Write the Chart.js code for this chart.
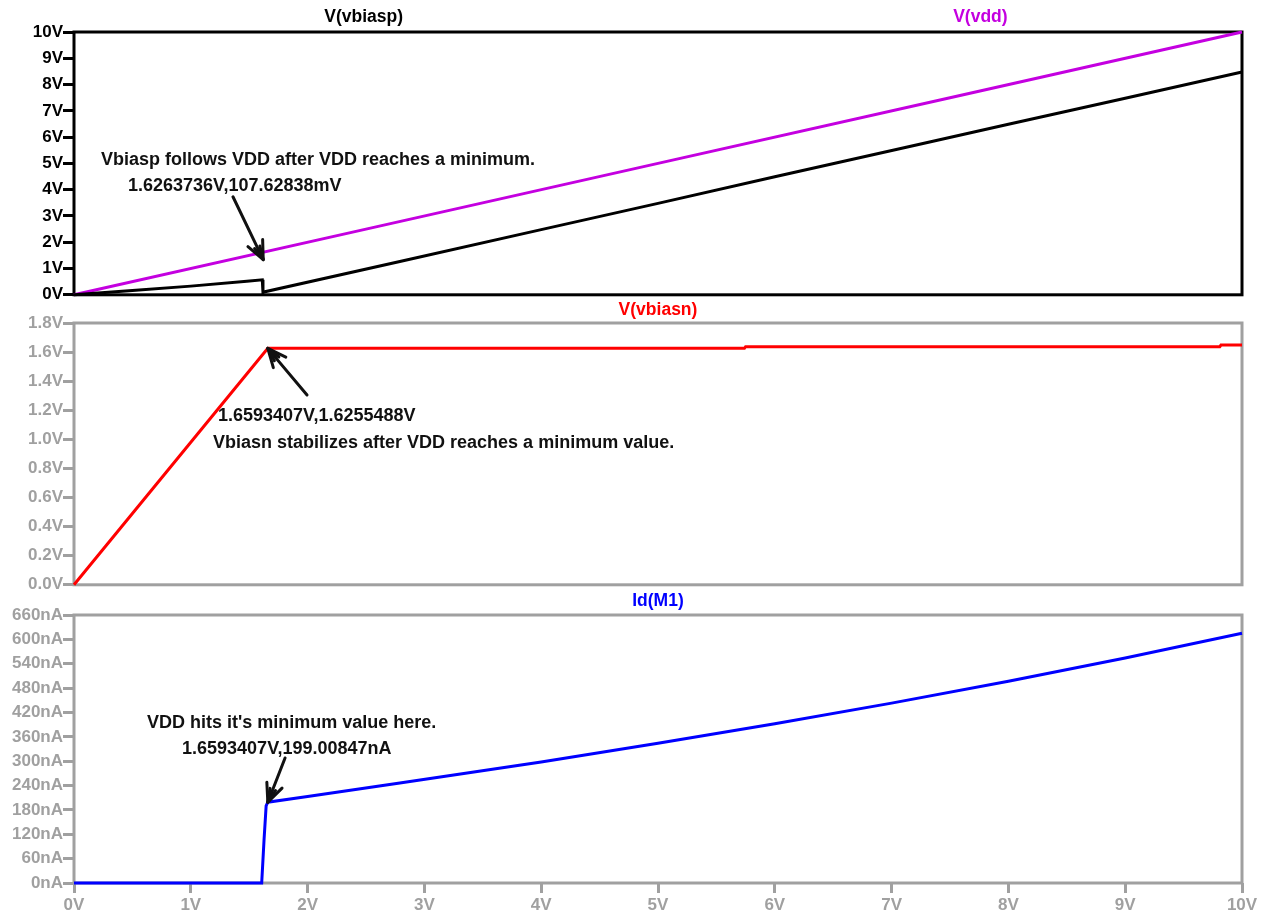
<!DOCTYPE html>
<html>
<head>
<meta charset="utf-8">
<title>VDD sweep: bias voltages and Id(M1)</title>
<script src="https://cdn.jsdelivr.net/npm/chart.js@4.4.1/dist/chart.umd.min.js"></script>
<style>
  html, body { margin: 0; padding: 0; background: #ffffff; }
  #wrap { position: relative; width: 1265px; height: 914px; overflow: hidden; }
  .pane { position: absolute; left: 0; width: 1265px; }
</style>
</head>
<body>
<div id="wrap">
  <div class="pane" style="top:0;height:305px"><canvas id="cTop"></canvas></div>
  <div class="pane" style="top:300px;height:295px"><canvas id="cMid"></canvas></div>
  <div class="pane" style="top:590px;height:324px"><canvas id="cBot"></canvas></div>
</div>
<script>
// ---- sweep data (x = VDD in volts) ----
const vddX = [0, 2.5, 5, 7.5, 10];
const vddY = [0, 2.5, 5, 7.5, 10];

const vbiaspX = [0, 0.5, 1.0, 1.48, 1.612, 1.618, 1.6263736, 2.79, 4.0, 5.0, 6.0, 7.24, 8.0, 9.0, 10.0];
const vbiaspY = [0, 0.16, 0.33, 0.52, 0.57, 0.08, 0.10762838, 1.27, 2.48, 3.48, 4.49, 5.73, 6.49, 7.48, 8.48];

const vbiasnX = [0, 0.5, 1.0, 1.5, 1.6593407, 3.0, 5.74, 5.75, 9.81, 9.82, 10.0];
const vbiasnY = [0, 0.49, 0.98, 1.47, 1.6255488, 1.626, 1.626, 1.637, 1.637, 1.648, 1.648];

const idX = [0, 1.0, 1.607, 1.627, 1.645, 1.6593407, 2.0, 2.79, 4.0, 5.0, 6.0, 7.0, 8.0, 9.0, 10.0];
const idY = [0, 0, 0, 106, 190, 199.00847, 213, 246, 298, 344, 392, 443, 497, 554, 615];

// axis ranges and tick steps
const xRange = [0, 10, 1];
const topRange = [0, 10, 1];
const midRange = [0, 1.8, 0.2];
const botRange = [0, 660, 60];

const FONT = '"Liberation Sans", Arial, sans-serif';
const GRAY = '#a0a0a0';

function pts(xs, ys) { return xs.map((x, i) => ({ x: x, y: ys[i] })); }

function drawArrow(ctx, x0, y0, x1, y1) {
  const ang = Math.atan2(y1 - y0, x1 - x0);
  const len = 20, spread = 0.42;
  ctx.beginPath();
  ctx.moveTo(x0, y0); ctx.lineTo(x1, y1);
  ctx.stroke();
  ctx.beginPath();
  ctx.moveTo(x1 - len * Math.cos(ang - spread), y1 - len * Math.sin(ang - spread));
  ctx.lineTo(x1, y1);
  ctx.lineTo(x1 - len * Math.cos(ang + spread), y1 - len * Math.sin(ang + spread));
  ctx.stroke();
  ctx.beginPath();
  ctx.moveTo(x1 - 0.7 * len * Math.cos(ang - spread * 0.5), y1 - 0.7 * len * Math.sin(ang - spread * 0.5));
  ctx.lineTo(x1, y1);
  ctx.lineTo(x1 - 0.7 * len * Math.cos(ang + spread * 0.5), y1 - 0.7 * len * Math.sin(ang + spread * 0.5));
  ctx.stroke();
}

// frame, trace names and annotations for each pane
const paneDecor = {
  id: 'paneDecor',
  beforeDatasetsDraw(chart, args, opts) {
    const { ctx, chartArea: a } = chart;
    ctx.save();
    ctx.strokeStyle = opts.frame;
    ctx.lineWidth = 3;
    ctx.strokeRect(a.left, a.top, a.right - a.left, a.bottom - a.top);
    ctx.restore();
  },
  afterDatasetsDraw(chart, args, opts) {
    const { ctx, chartArea: a } = chart;
    const sx = chart.scales.x, sy = chart.scales.y;
    ctx.save();
    ctx.font = 'bold 17.5px ' + FONT;
    ctx.textAlign = 'center';
    ctx.textBaseline = 'middle';
    (opts.titles || []).forEach(t => {
      ctx.fillStyle = t.color;
      ctx.fillText(t.text, a.left + t.at * (a.right - a.left), t.y);
    });
    ctx.font = 'bold 18px ' + FONT;
    ctx.textAlign = 'left';
    ctx.fillStyle = '#111111';
    ctx.strokeStyle = '#111111';
    ctx.lineWidth = 3;
    ctx.lineCap = 'round';
    ctx.lineJoin = 'round';
    (opts.notes || []).forEach(n => {
      n.lines.forEach(l => ctx.fillText(l.text, sx.getPixelForValue(l.x), sy.getPixelForValue(l.y)));
      drawArrow(ctx,
        sx.getPixelForValue(n.tail[0]), sy.getPixelForValue(n.tail[1]),
        sx.getPixelForValue(n.tip[0]), sy.getPixelForValue(n.tip[1]));
    });
    ctx.restore();
  }
};

function yScale(range, color, fmt) {
  return {
    type: 'linear',
    min: range[0], max: range[1],
    afterFit(s) { s.width = 74; },
    border: { display: false },
    grid: { drawOnChartArea: false, drawTicks: true, tickLength: 11, lineWidth: 3, color: color },
    ticks: { stepSize: range[2], autoSkip: false, color: color, padding: 0,
             font: { family: FONT, size: 17, weight: 'bold' }, callback: fmt }
  };
}

function xScale(show) {
  return {
    type: 'linear',
    min: xRange[0], max: xRange[1],
    display: show,
    afterFit(s) { if (show) s.height = 31; },
    border: { display: false },
    grid: { drawOnChartArea: false, drawTicks: true, tickLength: 10, lineWidth: 3, color: GRAY },
    ticks: { stepSize: xRange[2], autoSkip: false, color: GRAY, padding: 2, maxRotation: 0,
             font: { family: FONT, size: 17, weight: 'bold' }, callback: v => v + 'V' }
  };
}

function lineSet(label, data, color) {
  return { label: label, data: data, borderColor: color, backgroundColor: color,
           borderWidth: 3, pointRadius: 0, tension: 0, fill: false, clip: 4 };
}

function baseOptions(padding, scales, decor) {
  return {
    responsive: true, maintainAspectRatio: false, animation: false,
    layout: { padding: padding },
    plugins: { legend: { display: false }, tooltip: { enabled: false }, title: { display: false },
               paneDecor: decor },
    scales: scales
  };
}

// top pane: V(vbiasp) and V(vdd)
new Chart(document.getElementById('cTop'), {
  type: 'line',
  data: { datasets: [
    lineSet('V(vbiasp)', pts(vbiaspX, vbiaspY), '#000000'),
    lineSet('V(vdd)', pts(vddX, vddY), '#c400e0')
  ] },
  options: baseOptions({ left: 0, right: 23, top: 32, bottom: 0 }, {
    x: xScale(false),
    y: yScale(topRange, '#000000', v => v + 'V')
  }, {
    frame: '#000000',
    titles: [
      { text: 'V(vbiasp)', color: '#000000', at: 0.248, y: 17 },
      { text: 'V(vdd)', color: '#c400e0', at: 0.776, y: 17 }
    ],
    notes: [{
      lines: [
        { text: 'Vbiasp follows VDD after VDD reaches a minimum.', x: 0.231, y: 5.13 },
        { text: '1.6263736V,107.62838mV', x: 0.462, y: 4.12 }
      ],
      tail: [1.361, 3.73], tip: [1.62, 1.34]
    }]
  }),
  plugins: [paneDecor]
});

// middle pane: V(vbiasn)
new Chart(document.getElementById('cMid'), {
  type: 'line',
  data: { datasets: [ lineSet('V(vbiasn)', pts(vbiasnX, vbiasnY), '#ff0000') ] },
  options: baseOptions({ left: 0, right: 23, top: 23, bottom: 0 }, {
    x: xScale(false),
    y: yScale(midRange, GRAY, v => v.toFixed(1) + 'V')
  }, {
    frame: GRAY,
    titles: [ { text: 'V(vbiasn)', color: '#ff0000', at: 0.5, y: 10 } ],
    notes: [{
      lines: [
        { text: '1.6593407V,1.6255488V', x: 1.233, y: 1.161 },
        { text: 'Vbiasn stabilizes after VDD reaches a minimum value.', x: 1.19, y: 0.975 }
      ],
      tail: [1.995, 1.305], tip: [1.6593407, 1.6255488]
    }]
  }),
  plugins: [paneDecor]
});

// bottom pane: Id(M1)
new Chart(document.getElementById('cBot'), {
  type: 'line',
  data: { datasets: [ lineSet('Id(M1)', pts(idX, idY), '#0000ff') ] },
  options: baseOptions({ left: 0, right: 23, top: 25, bottom: 0 }, {
    x: xScale(true),
    y: yScale(botRange, GRAY, v => v + 'nA')
  }, {
    frame: GRAY,
    titles: [ { text: 'Id(M1)', color: '#0000ff', at: 0.5, y: 11 } ],
    notes: [{
      lines: [
        { text: "VDD hits it's minimum value here.", x: 0.625, y: 395 },
        { text: '1.6593407V,199.00847nA', x: 0.925, y: 330 }
      ],
      tail: [1.807, 308], tip: [1.6593407, 199.00847]
    }]
  }),
  plugins: [paneDecor]
});
</script>
</body>
</html>
